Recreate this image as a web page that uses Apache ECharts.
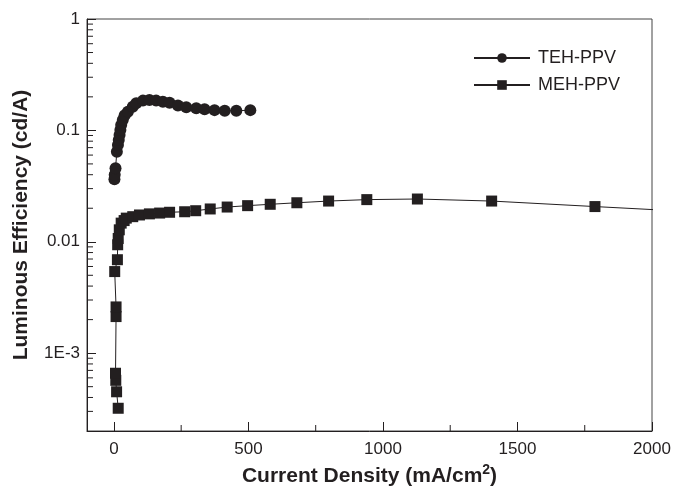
<!DOCTYPE html>
<html>
<head>
<meta charset="utf-8">
<script src="https://cdn.jsdelivr.net/npm/echarts@6/dist/echarts.min.js"></script>
<style>
html,body{margin:0;padding:0;background:#fff;}
#chart{width:674px;height:487px;}
</style>
</head>
<body>
<div id="chart"></div>
<script>
// TEH-PPV: current density (mA/cm2), luminous efficiency (cd/A)
var tehX = [2, 3, 6, 11, 15, 18, 21, 24, 27, 33, 40, 52, 70, 83, 108, 132, 157, 182, 207, 238, 269, 306, 337, 374, 412, 455, 507];
var tehY = [0.0364, 0.040, 0.0457, 0.0644, 0.074, 0.082, 0.091, 0.101, 0.112, 0.124, 0.137, 0.147, 0.163, 0.175, 0.185, 0.187, 0.185, 0.181, 0.177, 0.167, 0.161, 0.158, 0.155, 0.152, 0.150, 0.150, 0.152];
// MEH-PPV
var mehX = [16, 10, 7, 6, 8, 8, 3, 13, 14, 16, 20, 27, 38, 46, 70, 95, 132, 170, 207, 263, 304, 358, 421, 497, 581, 680, 798, 940, 1128, 1404, 1788, 2230];
var mehY = [0.00032, 0.00045, 0.00057, 0.00066, 0.00213, 0.0026, 0.0054, 0.0069, 0.0094, 0.0107, 0.0128, 0.0147, 0.0155, 0.0163, 0.0168, 0.0174, 0.0178, 0.0181, 0.0184, 0.0186, 0.0190, 0.0197, 0.0205, 0.0211, 0.0217, 0.0224, 0.0232, 0.0239, 0.0242, 0.0232, 0.0207, 0.0182];
// axis ticks
var xMajorTicks = [0, 500, 1000, 1500, 2000];
var xMinorTicks = [250, 750, 1250, 1750];
var yMinorTicks = [0.0003,0.0004,0.0005,0.0006,0.0007,0.0008,0.0009,
  0.002,0.003,0.004,0.005,0.006,0.007,0.008,0.009,
  0.02,0.03,0.04,0.05,0.06,0.07,0.08,0.09,
  0.2,0.3,0.4,0.5,0.6,0.7,0.8,0.9];
var xMin = -100, xMax = 2000, yMin = 0.0002, yMax = 1;

var ink = '#231f20';
function pairs(xs, ys){ return xs.map(function(x,i){ return [x, ys[i]]; }); }

var tickData = yMinorTicks.map(function(v){ return [xMin, v, 0]; })
  .concat(xMinorTicks.map(function(v){ return [v, yMin, 1]; }));

var chart = echarts.init(document.getElementById('chart'), null, {renderer:'canvas'});
chart.setOption({
  animation: false,
  backgroundColor: '#fff',
  textStyle: {fontFamily: 'Liberation Sans, Arial, sans-serif', color: ink},
  grid: {left: 87, right: 22, top: 19, bottom: 56, show: true, borderColor: '#444', borderWidth: 1, containLabel: false, outerBoundsMode: 'none'},
  legend: {
    orient: 'vertical', left: 473, top: 49, padding: 0, itemWidth: 56, itemHeight: 12, itemGap: 9,
    data: ['TEH-PPV', 'MEH-PPV'],
    textStyle: {fontSize: 18, color: ink, fontFamily: 'Liberation Sans, Arial, sans-serif', padding: [0,0,0,3]}
  },
  xAxis: {
    type: 'value', min: xMin, max: xMax,
    name: 'Current Density (mA/cm{sup|2})',
    nameLocation: 'middle', nameGap: 27,
    nameTextStyle: {fontSize: 21, fontWeight: 'bold', color: ink,
      rich: {sup: {fontSize: 14, fontWeight: 'bold', color: ink, verticalAlign: 'top', padding: [0,0,12,0]}}},
    axisLine: {show: true, onZero: false, lineStyle: {color: ink, width: 1}},
    axisTick: {show: true, inside: true, length: 9, customValues: xMajorTicks, lineStyle: {color: ink}},
    axisLabel: {fontSize: 17, color: ink, margin: 10, customValues: xMajorTicks,
      formatter: function(v){ return String(v); }},
    splitLine: {show: false}
  },
  yAxis: {
    type: 'log', logBase: 10, min: yMin, max: yMax,
    name: 'Luminous Efficiency (cd/A)',
    nameLocation: 'middle', nameGap: 55,
    nameTextStyle: {fontSize: 21, fontWeight: 'bold', color: ink},
    axisLine: {show: true, onZero: false, lineStyle: {color: ink, width: 1}},
    axisTick: {show: true, inside: true, length: 9, lineStyle: {color: ink}},
    axisLabel: {fontSize: 17, color: ink, margin: 7, showMinLabel: false,
      formatter: function(v){
        if (Math.abs(v - 1) < 1e-9) return '1';
        if (Math.abs(v - 0.1) < 1e-9) return '0.1';
        if (Math.abs(v - 0.01) < 1e-9) return '0.01';
        if (Math.abs(v - 0.001) < 1e-9) return '1E-3';
        return '';
      }},
    splitLine: {show: false}
  },
  series: [
    {
      name: 'TEH-PPV', type: 'line', data: pairs(tehX, tehY),
      symbol: 'circle', symbolSize: 12,
      itemStyle: {color: ink}, lineStyle: {color: ink, width: 1}, z: 3
    },
    {
      name: 'MEH-PPV', type: 'line', data: pairs(mehX, mehY),
      symbol: 'rect', symbolSize: 11,
      itemStyle: {color: ink}, lineStyle: {color: ink, width: 1}, z: 3
    },
    {
      name: 'minorTicks', type: 'custom', silent: true, data: tickData, z: 2,
      renderItem: function(params, api){
        var p = api.coord([api.value(0), api.value(1)]);
        var vert = api.value(2) === 1;
        return {type: 'line',
          shape: vert ? {x1: p[0], y1: p[1], x2: p[0], y2: p[1] - 6} : {x1: p[0], y1: p[1], x2: p[0] + 6, y2: p[1]},
          style: {stroke: ink, lineWidth: 1}};
      }
    }
  ]
});
</script>
</body>
</html>
